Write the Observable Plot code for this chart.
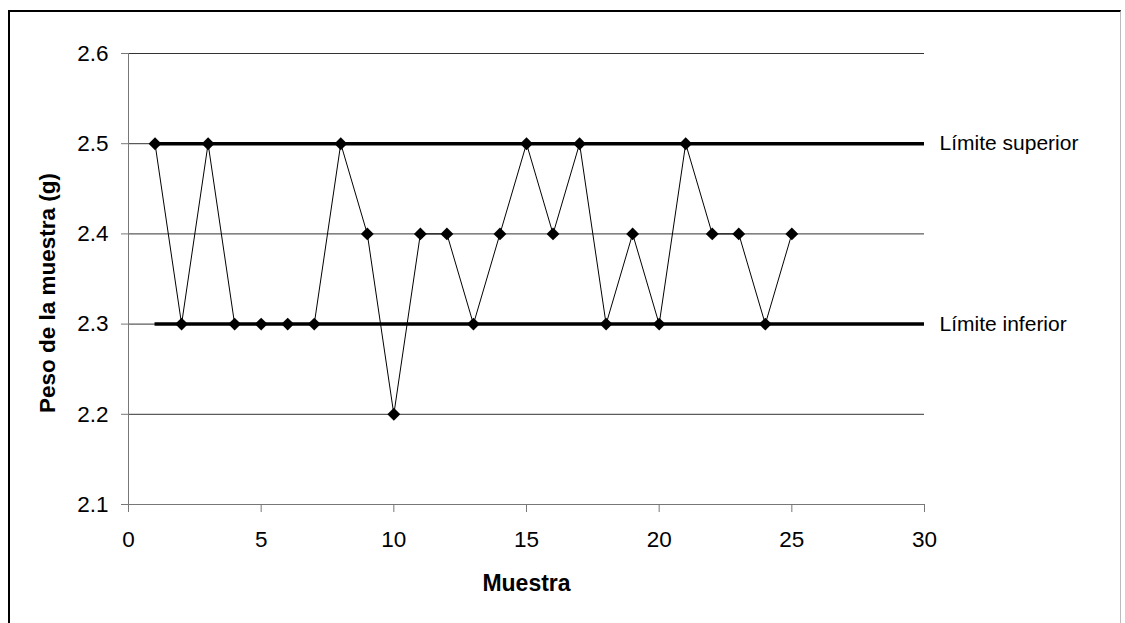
<!DOCTYPE html>
<html>
<head>
<meta charset="utf-8">
<script src="https://cdn.jsdelivr.net/npm/d3@7"></script>
<script src="https://cdn.jsdelivr.net/npm/@observablehq/plot@0.6"></script>
<style>
  html, body { margin: 0; padding: 0; background: #fff; overflow: hidden; }
  #wrap { position: relative; width: 1125px; height: 623px; }
  #border {
    position: absolute; left: 8px; top: 10px; width: 1113px; height: 640px;
    border-left: 2px solid #000; border-top: 2px solid #000; border-right: 1px solid #bbb;
    box-sizing: border-box; pointer-events: none;
  }
  #chart { position: absolute; left: 0; top: 0; }
</style>
</head>
<body>
<div id="wrap">
  <div id="chart"></div>
  <div id="border"></div>
</div>
<script>
// Sample number and measured weight (g)
const muestra = [1, 2, 3, 4, 5, 6, 7, 8, 9, 10, 11, 12, 13, 14, 15, 16, 17, 18, 19, 20, 21, 22, 23, 24, 25];
const peso = [2.5, 2.3, 2.5, 2.3, 2.3, 2.3, 2.3, 2.5, 2.4, 2.2, 2.4, 2.4, 2.3, 2.4, 2.5, 2.4, 2.5, 2.3, 2.4, 2.3, 2.5, 2.4, 2.4, 2.3, 2.4];

// Control limits
const limiteNombres = ["Límite superior", "Límite inferior"];
const limiteValores = [2.5, 2.3];
const limiteDesde = 1;
const limiteHasta = 30;

// Axis ticks
const xTicks = [0, 5, 10, 15, 20, 25, 30];
const yTicks = [2.1, 2.2, 2.3, 2.4, 2.5, 2.6];

const puntos = muestra.map((m, i) => ({muestra: m, peso: peso[i]}));
const limites = limiteNombres.map((n, i) => ({nombre: n, valor: limiteValores[i], x1: limiteDesde, x2: limiteHasta}));

const font = "Liberation Sans, Arial, Helvetica, sans-serif";

const chart = Plot.plot({
  width: 1125,
  height: 623,
  marginLeft: 128,
  marginRight: 201,
  marginTop: 53,
  marginBottom: 119,
  style: {fontFamily: font, background: "transparent", color: "#000"},
  x: {domain: [0, 30]},
  y: {domain: [2.1, 2.6]},
  marks: [
    Plot.gridY(yTicks, {stroke: "#333", strokeOpacity: 1, strokeWidth: 1}),
    Plot.ruleY([2.1], {stroke: "#777", strokeWidth: 1}),
    Plot.ruleX([0], {stroke: "#777", strokeWidth: 1}),
    Plot.axisX(xTicks, {
      tickSize: 8, tickPadding: 19, fontSize: 22.5, stroke: "#777",
      tickFormat: d => String(d), label: null, color: "#000"
    }),
    Plot.axisY(yTicks, {
      tickSize: 7, tickPadding: 13, fontSize: 22.5, stroke: "#777",
      tickFormat: d3.format(".1f"), label: null, color: "#000"
    }),
    Plot.ruleY(limites, {y: "valor", x1: "x1", x2: "x2", stroke: "#000", strokeWidth: 3.5}),
    Plot.text(limites, {
      x: "x2", y: "valor", text: "nombre", dx: 15, textAnchor: "start",
      fontSize: 21, fill: "#000"
    }),
    Plot.line(puntos, {x: "muestra", y: "peso", stroke: "#000", strokeWidth: 1}),
    Plot.dot(puntos, {x: "muestra", y: "peso", symbol: "diamond2", r: 5.8, fill: "#000", stroke: "none"}),
    // Axis titles
    Plot.text(["Muestra"], {
      frameAnchor: "bottom", lineAnchor: "middle", textAnchor: "middle", dy: 79,
      text: d => d, fontSize: 23, fontWeight: "bold", fill: "#000"
    }),
    Plot.text(["Peso de la muestra (g)"], {
      frameAnchor: "left", textAnchor: "middle", lineAnchor: "middle", dx: -81, dy: 14, rotate: -90,
      text: d => d, fontSize: 22.5, fontWeight: "bold", fill: "#000"
    })
  ]
});

document.getElementById("chart").appendChild(chart);
</script>
</body>
</html>
